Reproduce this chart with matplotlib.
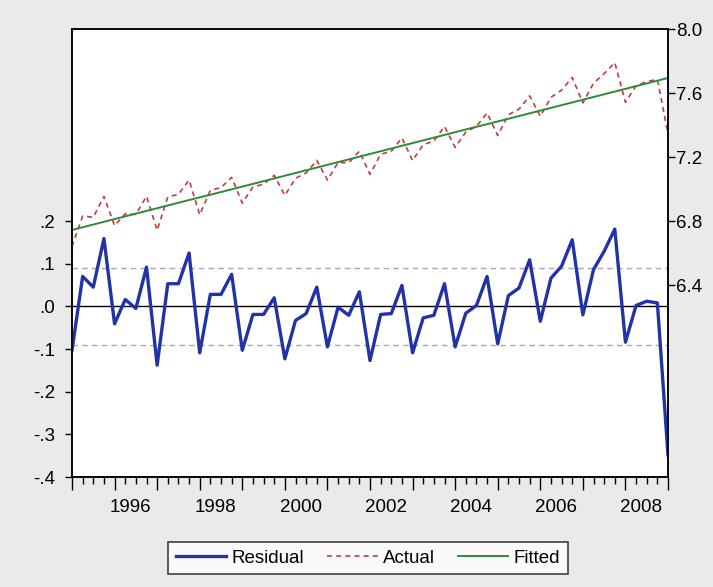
import matplotlib
matplotlib.use("Agg")
import matplotlib.pyplot as plt
import numpy as np

# quarterly sample 1995Q1 - 2009Q1
start_year = 1995
n_obs = 57

residual = [-0.103, 0.070, 0.045, 0.159, -0.041, 0.016, -0.005, 0.092, -0.138, 0.053,
            0.053, 0.125, -0.109, 0.028, 0.028, 0.075, -0.103, -0.019, -0.019, 0.020,
            -0.123, -0.033, -0.017, 0.045, -0.095, -0.002, -0.021, 0.034, -0.127, -0.019,
            -0.017, 0.049, -0.109, -0.027, -0.021, 0.053, -0.095, -0.016, 0.002, 0.070,
            -0.088, 0.025, 0.043, 0.109, -0.035, 0.066, 0.094, 0.156, -0.020, 0.086,
            0.129, 0.181, -0.084, 0.002, 0.012, 0.008, -0.348]

fitted = [6.744, 6.761, 6.778, 6.795, 6.812, 6.829, 6.846, 6.863, 6.880, 6.897,
          6.914, 6.931, 6.948, 6.964, 6.981, 6.998, 7.015, 7.032, 7.049, 7.066,
          7.083, 7.100, 7.117, 7.134, 7.151, 7.168, 7.185, 7.202, 7.219, 7.236,
          7.253, 7.270, 7.287, 7.304, 7.321, 7.338, 7.355, 7.372, 7.389, 7.405,
          7.422, 7.439, 7.456, 7.473, 7.490, 7.507, 7.524, 7.541, 7.558, 7.575,
          7.592, 7.609, 7.626, 7.643, 7.660, 7.677, 7.694]

# actual = fitted + residual
actual = [round(f + r, 3) for f, r in zip(fitted, residual)]

resid_sd = 0.09
year_labels = ["1996", "1998", "2000", "2002", "2004", "2006", "2008"]

x = start_year + np.arange(n_obs) / 4.0

plt.rcParams['font.family'] = ['Liberation Sans', 'DejaVu Sans']
fs = 13.5

fig = plt.figure(figsize=(7.13, 5.87), dpi=100, facecolor="#EAEAEA")
ax = fig.add_axes([72/713, 1-477/587, (668-72)/713, (477-29)/587])
ax.set_facecolor("white")

# residual on left axis
ax.axhline(0, color="black", lw=1.0, zorder=1)
ax.axhline(resid_sd, color="#A8A8B8", lw=1.0, ls=(0, (4, 3)), zorder=1)
ax.axhline(-resid_sd, color="#A8A8B8", lw=1.0, ls=(0, (4, 3)), zorder=1)
l_res, = ax.plot(x, residual, color="#2233A6", lw=2.4, zorder=3, label="Residual")
ax.set_ylim(-0.4, 0.65)
lticks = [-0.4, -0.3, -0.2, -0.1, 0.0, 0.1, 0.2]
ax.set_yticks(lticks)
ax.set_yticklabels([("%.1f" % v).replace("0.", ".") for v in lticks], fontsize=fs)
ax.set_xlim(start_year, start_year + (n_obs - 1) / 4.0)

# actual / fitted on right axis
ax2 = ax.twinx()
l_act, = ax2.plot(x, actual, color="#C83A3A", lw=1.2, ls=(0, (3, 2.5)), label="Actual")
l_fit, = ax2.plot(x, fitted, color="#2E8B3A", lw=1.4, label="Fitted")
ax2.set_ylim(5.2, 8.0)
ax2.set_yticks([6.4, 6.8, 7.2, 7.6, 8.0])
ax2.set_yticklabels(["6.4", "6.8", "7.2", "7.6", "8.0"], fontsize=fs)
ax2.tick_params(axis="y", length=5, width=1, pad=1, direction="out")

for a in (ax, ax2):
    for s in a.spines.values():
        s.set_linewidth(1.1)
ax.tick_params(axis="y", length=5, width=1, pad=7, direction="out")

# quarter ticks, long at Q1
ax.set_xticks(np.arange(start_year, start_year + (n_obs - 1) / 4.0 + 0.01, 1.0))
ax.set_xticks(x, minor=True)
ax.tick_params(axis="x", which="major", length=9, width=1, labelbottom=False)
ax.tick_params(axis="x", which="minor", length=5, width=1)

# year labels centred in the middle of the year
sec = ax.secondary_xaxis("bottom")
sec.set_xticks([int(y) + 0.375 for y in year_labels])
sec.set_xticklabels(year_labels, fontsize=fs)
sec.tick_params(length=0, pad=16)
sec.spines["bottom"].set_visible(False)

leg = fig.legend(handles=[l_res, l_act, l_fit], loc="center", ncol=3,
                 bbox_to_anchor=(368/713, 1-558/587), fontsize=fs,
                 frameon=True, fancybox=False, handlelength=2.7,
                 columnspacing=1.2, handletextpad=0.3, borderpad=0.4)
leg.get_frame().set_edgecolor("black")
leg.get_frame().set_linewidth(1.1)

fig.savefig("out.png", dpi=100, facecolor=fig.get_facecolor())
